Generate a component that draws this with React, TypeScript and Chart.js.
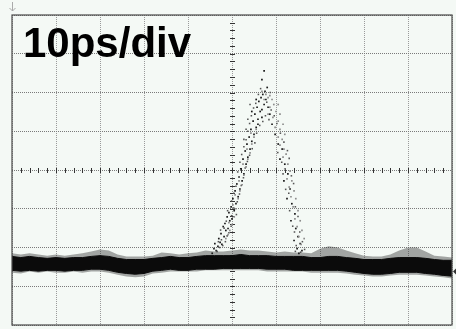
import { useEffect, useRef } from "react";
import { Chart, registerables } from "chart.js";

Chart.register(...registerables);

// Horizontal axis: time in ps (10 ps/div, 10 divisions); vertical axis: divisions (-4..4)
const TIME_MIN = 0;
const TIME_MAX = 100;
const TIME_STEP = 10;
const DIV_MIN = -4;
const DIV_MAX = 4;
const timebaseLabel = "10ps/div";
const CENTER_TIME = 50;

// Baseline noise band (sampled every 2 ps), values in divisions
const baselinePs = [0, 2, 4, 6, 8, 10, 12, 14, 16, 18, 20, 22, 24, 26, 28, 30, 32, 34, 36, 38, 40, 42, 44, 46, 48, 50, 52, 54, 56, 58, 60, 62, 64, 66, 68, 70, 72, 74, 76, 78, 80, 82, 84, 86, 88, 90, 92, 94, 96, 98, 100];
const coreTop = [-2.23, -2.26, -2.23, -2.26, -2.28, -2.26, -2.28, -2.26, -2.26, -2.23, -2.21, -2.23, -2.28, -2.31, -2.31, -2.31, -2.28, -2.26, -2.23, -2.26, -2.26, -2.23, -2.21, -2.21, -2.21, -2.21, -2.18, -2.21, -2.21, -2.21, -2.23, -2.23, -2.23, -2.23, -2.26, -2.26, -2.23, -2.23, -2.26, -2.28, -2.31, -2.31, -2.31, -2.28, -2.26, -2.26, -2.26, -2.28, -2.31, -2.33, -2.33];
const coreBottom = [-2.59, -2.61, -2.59, -2.61, -2.59, -2.59, -2.61, -2.59, -2.59, -2.56, -2.56, -2.59, -2.64, -2.67, -2.69, -2.67, -2.61, -2.59, -2.56, -2.59, -2.59, -2.56, -2.56, -2.56, -2.54, -2.54, -2.54, -2.54, -2.54, -2.56, -2.56, -2.56, -2.59, -2.59, -2.59, -2.59, -2.59, -2.59, -2.61, -2.64, -2.67, -2.69, -2.69, -2.67, -2.64, -2.64, -2.64, -2.67, -2.69, -2.72, -2.74];
const fringeTop = [-2.15, -2.18, -2.15, -2.18, -2.21, -2.18, -2.21, -2.18, -2.15, -2.10, -2.05, -2.08, -2.18, -2.23, -2.23, -2.23, -2.21, -2.13, -2.15, -2.18, -2.15, -2.13, -2.08, -2.10, -2.10, -2.08, -2.05, -2.08, -2.08, -2.10, -2.13, -2.10, -2.13, -2.13, -2.15, -2.03, -1.97, -2.00, -2.08, -2.15, -2.21, -2.23, -2.23, -2.18, -2.08, -2.00, -2.00, -2.10, -2.21, -2.23, -2.26];
const fringeBottom = [-2.65, -2.67, -2.62, -2.65, -2.62, -2.65, -2.65, -2.62, -2.65, -2.62, -2.62, -2.65, -2.70, -2.75, -2.77, -2.75, -2.67, -2.65, -2.62, -2.62, -2.62, -2.62, -2.59, -2.59, -2.59, -2.59, -2.59, -2.59, -2.59, -2.62, -2.62, -2.62, -2.62, -2.62, -2.65, -2.65, -2.65, -2.65, -2.67, -2.70, -2.72, -2.75, -2.75, -2.72, -2.70, -2.70, -2.70, -2.72, -2.75, -2.77, -2.80];

// Pulse samples (dark trace), [ps, div]
const pulseDark: [number, number][] = [
  [45.5, -2.15], [45.9, -2.03], [46.4, -2.08], [46.8, -1.97], [46.1, -1.9], [47.3, -1.87], [47.7, -1.92], [47.0, -1.77],
  [48.2, -1.72], [47.5, -1.64], [48.6, -1.56], [48.0, -1.46], [49.1, -1.51], [48.4, -1.38], [49.5, -1.31], [48.9, -1.21],
  [50.0, -1.26], [49.3, -1.1], [50.5, -1.05], [49.8, -0.95], [50.9, -0.87], [50.2, -0.74], [51.4, -0.69], [50.7, -0.54],
  [51.8, -0.49], [51.1, -0.36], [52.3, -0.28], [51.6, -0.18], [52.7, -0.1], [52.0, 0.03], [53.2, 0.15], [52.5, 0.28],
  [53.6, 0.33], [53.0, 0.49], [54.1, 0.54], [53.4, 0.67], [54.5, 0.74], [53.9, 0.85], [55.0, 0.92], [54.3, 1.05],
  [55.5, 1.1], [54.8, 1.26], [55.9, 1.31], [55.2, 1.44], [56.4, 1.51], [55.7, 1.62], [56.8, 1.56], [56.1, 1.77],
  [57.3, 1.69], [56.6, 1.87], [57.7, 1.82], [57.0, 1.95], [58.2, 1.62], [57.5, 2.03], [58.6, 1.44], [58.0, 2.13],
  [55.5, 1.82], [54.5, 1.51], [55.9, 1.18], [56.8, 1.36],
  [59.1, 1.18], [59.8, 0.92], [60.5, 0.67], [61.4, 0.54], [60.9, 0.28], [62.0, 0.15], [62.7, -0.1], [61.8, -0.28],
  [63.2, -0.49], [62.5, -0.74], [63.6, -0.87], [64.3, -1.13], [63.4, -1.31], [64.5, -1.51], [65.0, -1.72], [64.1, -1.82],
  [65.5, -1.9], [64.8, -2.03], [65.9, -2.08], [65.2, -2.15],
  [57.3, 2.56], [56.8, 2.33],
];

// Pulse samples (grey trace), [ps, div]
const pulseGrey: [number, number][] = [
  [48.6, -1.77], [49.1, -1.67], [49.5, -1.56], [50.0, -1.41], [49.3, -1.36], [50.5, -1.21], [50.9, -1.0], [50.2, -0.9],
  [51.4, -0.74], [50.7, -0.64], [51.8, -0.54], [52.3, -0.38], [51.6, -0.28], [52.7, -0.13], [53.2, 0.08], [52.5, 0.15],
  [53.6, 0.28], [54.1, 0.44], [53.4, 0.54], [54.5, 0.67], [55.0, 0.85], [54.3, 0.95], [55.5, 1.05],
  [56.8, 2.03], [57.7, 1.95], [58.2, 1.87], [58.6, 1.92], [59.1, 1.82], [57.3, 1.82], [59.5, 1.69], [58.6, 1.62],
  [60.0, 1.51], [58.2, 1.44], [59.3, 1.36], [60.5, 1.26], [59.8, 1.1], [60.9, 1.05],
  [60.5, 0.85], [61.4, 0.79], [60.9, 0.64], [61.8, 0.54], [61.6, 0.33], [62.3, 0.41], [62.7, 0.15], [62.0, 0.03],
  [63.2, -0.03], [62.5, -0.23], [63.6, -0.28], [63.0, -0.44], [64.1, -0.54], [63.4, -0.69], [64.5, -0.74], [63.9, -0.95],
  [65.0, -1.05], [64.3, -1.26], [65.5, -1.31], [64.8, -1.46], [65.9, -1.56], [65.2, -1.72], [66.4, -1.77], [65.7, -1.92],
  [60.9, 1.44], [61.6, 1.18], [60.5, 1.69], [62.0, 0.92],
];

// Further scattered pulse samples (mid-tone), [ps, div]
const pulseScatter: [number, number][] = [
  [46.6, -2.1], [47.2, -2.0], [47.9, -1.95], [46.9, -1.85], [48.5, -1.85], [47.6, -1.8], [48.9, -1.7], [47.4, -1.55],
  [49.3, -1.62], [48.2, -1.5], [49.8, -1.45], [48.7, -1.32], [49.9, -1.18], [49.0, -1.05], [51.0, -1.15], [50.4, -0.98],
  [51.2, -0.82], [49.9, -0.8], [51.7, -0.62], [50.4, -0.6], [52.1, -0.4], [50.9, -0.42], [52.6, -0.2], [51.3, -0.05],
  [53.0, 0.05], [51.8, 0.2], [53.5, 0.22], [52.2, 0.4], [54.0, 0.38], [52.7, 0.6], [54.6, 0.55], [53.2, 0.78],
  [55.2, 0.7], [53.6, 1.0], [55.6, 0.95], [54.0, 1.2], [56.3, 1.15], [54.4, 1.4], [57.0, 1.25], [54.9, 1.6],
  [57.6, 1.4], [55.4, 1.72], [58.4, 1.3], [56.0, 1.95], [58.9, 1.55], [56.5, 2.1], [59.6, 1.4], [57.9, 1.75],
  [60.2, 1.2], [58.7, 2.0],
  [61.0, 0.95], [61.8, 0.72], [60.4, 0.45], [62.6, 0.5], [61.3, 0.2], [63.0, 0.3], [61.6, -0.1], [63.5, -0.15],
  [62.2, -0.5], [64.0, -0.35], [62.9, -0.6], [64.4, -0.95], [63.1, -1.05], [65.0, -1.2], [63.8, -1.45], [65.4, -1.6],
  [64.2, -1.6], [66.0, -1.85], [64.6, -1.95], [66.5, -2.05], [65.6, -2.12], [64.4, -2.1],
  [53.6, 1.31], [53.2, 1.05], [54.1, 1.69], [52.7, 0.79],
];

const triggerLevelDiv = -2.62;

const BG = "#f4f9f5";

const toXY = (xs: number[], ys: number[]) => xs.map((x, i) => ({ x, y: ys[i] }));
const pairs = (arr: [number, number][]) => arr.map(([x, y]) => ({ x, y }));

const scopePlugin = {
  id: "scopeDecor",
  beforeDraw(chart: any) {
    const { ctx, width, height } = chart;
    ctx.save();
    ctx.fillStyle = BG;
    ctx.fillRect(0, 0, width, height);
    ctx.restore();
  },
  beforeDatasetsDraw(chart: any) {
    const { ctx } = chart;
    const xs = chart.scales.x;
    const ys = chart.scales.y;
    const y0 = Math.round(ys.getPixelForValue(0)) + 0.5;
    const x0 = Math.round(xs.getPixelForValue(CENTER_TIME)) + 0.5;
    ctx.save();
    ctx.strokeStyle = "#333";
    ctx.lineWidth = 1;
    ctx.beginPath();
    for (let v = TIME_MIN + 2; v < TIME_MAX; v += 2) {
      const px = Math.round(xs.getPixelForValue(v)) + 0.5;
      ctx.moveTo(px, y0 - 2.5);
      ctx.lineTo(px, y0 + 2.5);
    }
    for (let k = 1; k < 40; k++) {
      const v = DIV_MIN + k * 0.2;
      const py = Math.round(ys.getPixelForValue(v)) + 0.5;
      ctx.moveTo(x0 - 2.5, py);
      ctx.lineTo(x0 + 2.5, py);
    }
    ctx.stroke();
    ctx.restore();
  },
  afterDraw(chart: any) {
    const { ctx, chartArea } = chart;
    const ys = chart.scales.y;
    ctx.save();
    // frame
    ctx.strokeStyle = "#4a4a4a";
    ctx.lineWidth = 1.2;
    ctx.strokeRect(chartArea.left, chartArea.top, chartArea.right - chartArea.left, chartArea.bottom - chartArea.top);
    // top-left arrow marker
    ctx.strokeStyle = "#aaa";
    ctx.lineWidth = 1;
    ctx.beginPath();
    ctx.moveTo(chartArea.left + 0.5, 2);
    ctx.lineTo(chartArea.left + 0.5, 11);
    ctx.moveTo(chartArea.left - 2.5, 8);
    ctx.lineTo(chartArea.left + 0.5, 11);
    ctx.lineTo(chartArea.left + 3.5, 8);
    ctx.stroke();
    // trigger level marker
    const ty = ys.getPixelForValue(triggerLevelDiv);
    ctx.fillStyle = "#333";
    ctx.beginPath();
    ctx.moveTo(chartArea.right + 1, ty);
    ctx.lineTo(chartArea.right + 4, ty - 3);
    ctx.lineTo(chartArea.right + 4, ty + 3);
    ctx.closePath();
    ctx.fill();
    // timebase label
    ctx.fillStyle = "#000";
    ctx.font = "bold 42px 'Liberation Sans', Arial, sans-serif";
    ctx.textBaseline = "alphabetic";
    ctx.textAlign = "left";
    ctx.fillText(timebaseLabel, 23, 57);
    ctx.restore();
  },
};

export default function App() {
  const ref = useRef<HTMLCanvasElement | null>(null);
  useEffect(() => {
    document.body.style.margin = "0";
    const canvas = ref.current;
    if (!canvas) return;
    const chart = new Chart(canvas, {
      type: "scatter",
      data: {
        datasets: [
          {
            data: toXY(baselinePs, fringeTop),
            showLine: true,
            pointRadius: 0,
            borderWidth: 0,
            borderColor: "rgba(0,0,0,0)",
            backgroundColor: "rgba(30,30,30,0.38)",
            fill: "+1",
          },
          {
            data: toXY(baselinePs, fringeBottom),
            showLine: true,
            pointRadius: 0,
            borderWidth: 0,
            borderColor: "rgba(0,0,0,0)",
            fill: false,
          },
          {
            data: toXY(baselinePs, coreTop),
            showLine: true,
            pointRadius: 0,
            borderWidth: 1,
            borderColor: "#000",
            backgroundColor: "#000",
            fill: "+1",
          },
          {
            data: toXY(baselinePs, coreBottom),
            showLine: true,
            pointRadius: 0,
            borderWidth: 1,
            borderColor: "#000",
            fill: false,
          },
          {
            data: pairs(pulseGrey),
            pointStyle: "rect",
            pointRadius: 1.2,
            borderWidth: 0,
            backgroundColor: "#8d8d8d",
          },
          {
            data: pairs(pulseScatter),
            pointStyle: "rect",
            pointRadius: 1.1,
            borderWidth: 0,
            backgroundColor: "#555",
          },
          {
            data: pairs(pulseDark),
            pointStyle: "rect",
            pointRadius: 1.2,
            borderWidth: 0,
            backgroundColor: "#1a1a1a",
          },
        ],
      },
      options: {
        animation: false,
        responsive: false,
        devicePixelRatio: 1,
        events: [],
        layout: { padding: { left: 12, top: 15, right: 4, bottom: 2 } },
        plugins: { legend: { display: false }, tooltip: { enabled: false } },
        scales: {
          x: {
            type: "linear",
            min: TIME_MIN,
            max: TIME_MAX,
            ticks: { display: false, stepSize: TIME_STEP },
            grid: { color: "#9a9a9a", lineWidth: 1, drawTicks: false },
            border: { display: false, dash: [1, 1] },
          },
          y: {
            type: "linear",
            min: DIV_MIN,
            max: DIV_MAX,
            ticks: { display: false, stepSize: 1 },
            grid: { color: "#7a7a7a", lineWidth: 1, drawTicks: false },
            border: { display: false, dash: [1, 1] },
          },
        },
      },
      plugins: [scopePlugin],
    });
    return () => chart.destroy();
  }, []);
  return (
    <div style={{ width: 456, height: 329 }}>
      <canvas ref={ref} width={456} height={329} style={{ display: "block" }} />
    </div>
  );
}
